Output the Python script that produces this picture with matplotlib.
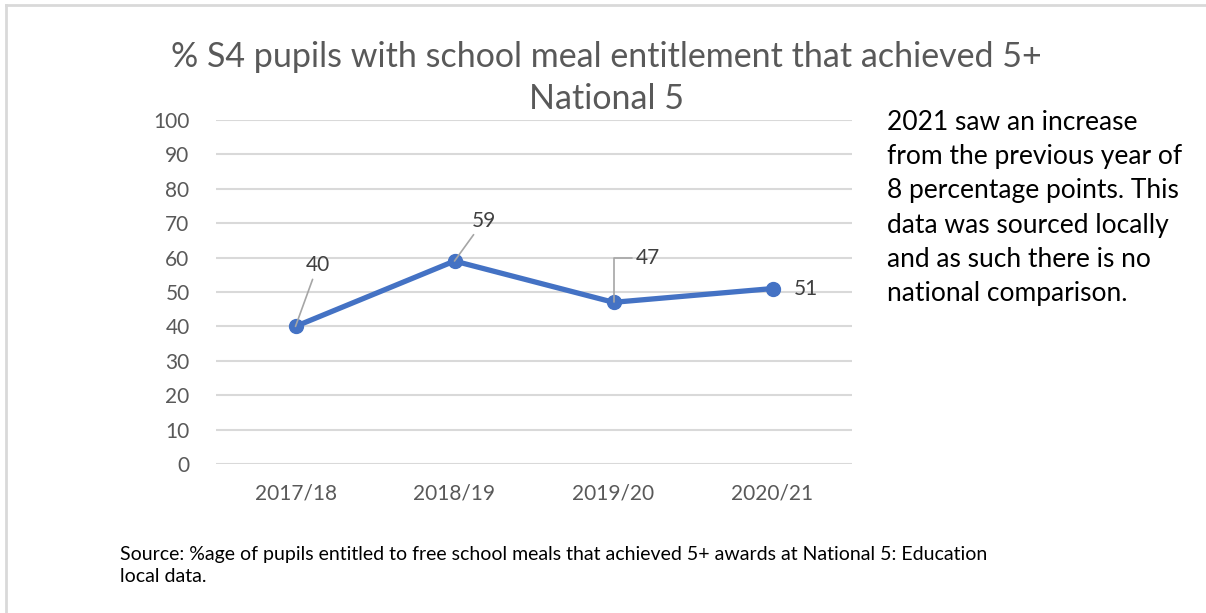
import matplotlib
matplotlib.use('Agg')
import matplotlib.pyplot as plt
from matplotlib.lines import Line2D

plt.rcParams['font.family'] = ['Lato', 'DejaVu Sans']

years = ['2017/18', '2018/19', '2019/20', '2020/21']
pct = [40, 59, 47, 51]
y_ticks = list(range(0, 101, 10))

title = '% S4 pupils with school meal entitlement that achieved 5+\nNational 5'
note = ('2021 saw an increase\nfrom the previous year of\n8 percentage points. This\n'
        'data was sourced locally\nand as such there is no\nnational comparison.')
source = ('Source: %age of pupils entitled to free school meals that achieved 5+ awards at National 5: Education\n'
          'local data.')

# label offsets in points, and leader style per point
label_off = [(16, 44), (21, 29), (25, 32), (24, 0)]
leader = ['arc3', 'arc3', 'angle,angleA=0,angleB=90,rad=0', None]

fig = plt.figure(figsize=(12.06, 6.13), dpi=100)
ax = fig.add_axes([216 / 1206, 1 - 464 / 613, 636 / 1206, 344 / 613])

x = list(range(len(years)))
ax.plot(x, pct, color='#4472C4', lw=3.8, marker='o', ms=10, zorder=3,
        solid_capstyle='round')

for i, v in enumerate(pct):
    props = None
    if leader[i] is not None:
        props = dict(arrowstyle='-', color='#a6a6a6', lw=1.2,
                     connectionstyle=leader[i], shrinkA=1, shrinkB=0)
    ax.annotate(str(v), (i, v), xytext=label_off[i], textcoords='offset points',
                ha='center', va='center', fontsize=15, color='#404040',
                arrowprops=props, zorder=4)

ax.set_xlim(-0.5, len(years) - 0.5)
ax.set_ylim(0, 100)
ax.set_yticks(y_ticks)
ax.set_xticks(x)
ax.set_xticklabels(years)
ax.tick_params(length=0, labelsize=15, labelcolor='#595959')
ax.tick_params(axis='y', pad=19)
ax.tick_params(axis='x', pad=14)
ax.grid(axis='y', color='#d9d9d9', lw=1.5)
ax.set_axisbelow(True)
for s in ax.spines.values():
    s.set_visible(False)

fig.text(0.503, 1 - 78 / 613, title, ha='center', va='center', fontsize=24.5,
         color='#595959', linespacing=1.4)
fig.text(887 / 1206, 1 - 110 / 613, note, ha='left', va='top', fontsize=19,
         color='black', linespacing=1.46)
fig.text(120 / 1206, 1 - 546 / 613, source, ha='left', va='top', fontsize=14,
         color='black', linespacing=1.38)

# light border of the text box
fig.add_artist(Line2D([6 / 1206, 6 / 1206], [0, 1 - 5 / 613], transform=fig.transFigure,
                      color='#d9d9d9', lw=2))
fig.add_artist(Line2D([6 / 1206, 1], [1 - 5 / 613, 1 - 5 / 613], transform=fig.transFigure,
                      color='#d9d9d9', lw=2))

fig.savefig('out.png', dpi=100)
